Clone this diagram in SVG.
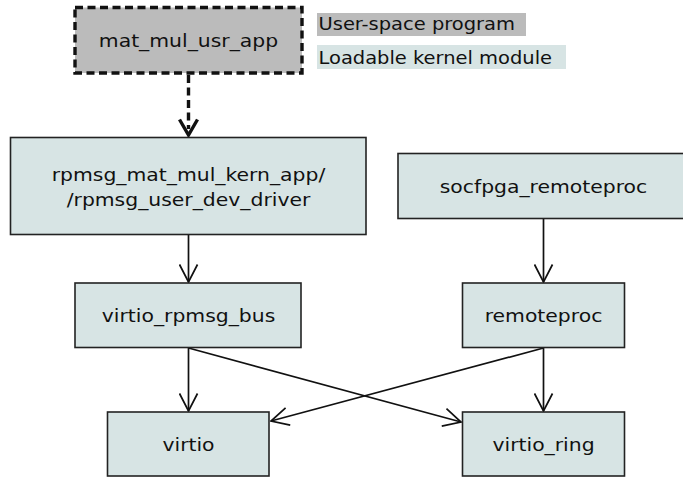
<svg xmlns="http://www.w3.org/2000/svg" width="683" height="477" viewBox="0 0 683 477">
<defs>
<style>
text{font-family:"DejaVu Sans","Noto Sans",sans-serif;font-size:17.7px;fill:#111;text-anchor:middle}
.k{fill:#d7e4e4;stroke:#222;stroke-width:1.6}
.u{fill:#bbbbbb;stroke:#111;stroke-width:3.4;stroke-dasharray:8,4.5}
.c{fill:none;stroke:#111;stroke-width:1.7}
.d{fill:none;stroke:#111;stroke-width:3.4;stroke-dasharray:8,4.5}
.l{text-anchor:start}
</style>
<marker id="a" viewBox="0 0 19 20" refX="18" refY="10" markerWidth="19" markerHeight="20" markerUnits="userSpaceOnUse" orient="auto">
<path d="M0.5,1 L18,10 L0.5,19" fill="none" stroke="#111" stroke-width="1.7"/>
</marker>
<marker id="ad" viewBox="0 0 20 22" refX="18" refY="11" markerWidth="20" markerHeight="22" markerUnits="userSpaceOnUse" orient="auto">
<path d="M1.5,2 L17,11 L1.5,20" fill="none" stroke="#111" stroke-width="3.4"/>
</marker>
</defs>
<g id="legend">
<rect x="317" y="13" width="209" height="23" fill="#bbbbbb"/>
<text class="l" transform="translate(318.5 30) scale(1.1 1)">User-space program</text>
<rect x="317" y="45" width="249" height="24" fill="#d7e4e4"/>
<text class="l" transform="translate(318.5 63.5) scale(1.1 1)">Loadable kernel module</text>
</g>
<g id="connectors">
<line class="d" x1="188.5" y1="75" x2="188.5" y2="129"/>
<line class="c" x1="188.5" y1="128" x2="188.5" y2="136" stroke="none" style="stroke:none" marker-end="url(#ad)"/>
<line class="c" x1="188.5" y1="235" x2="188.5" y2="282" marker-end="url(#a)"/>
<line class="c" x1="543.5" y1="219" x2="543.5" y2="282" marker-end="url(#a)"/>
<line class="c" x1="188.5" y1="348" x2="188.5" y2="411" marker-end="url(#a)"/>
<line class="c" x1="543.5" y1="348" x2="543.5" y2="411" marker-end="url(#a)"/>
<line class="c" x1="188.5" y1="348" x2="461" y2="422" marker-end="url(#a)"/>
<line class="c" x1="543.5" y1="348" x2="271" y2="421" marker-end="url(#a)"/>
</g>
<g id="mat_mul_usr_app">
<rect class="u" x="75" y="7.5" width="227" height="65.5"/>
<text transform="translate(188.5 47) scale(1.15 1)">mat_mul_usr_app</text>
</g>
<g id="rpmsg_mat_mul_kern_app">
<rect class="k" x="10.5" y="137.5" width="355.5" height="97"/>
<text transform="translate(188.5 181) scale(1.15 1)">rpmsg_mat_mul_kern_app/</text>
<text transform="translate(188.5 206) scale(1.15 1)">/rpmsg_user_dev_driver</text>
</g>
<g id="socfpga_remoteproc">
<rect class="k" x="398" y="153.5" width="292" height="65"/>
<text transform="translate(543.5 192.5) scale(1.15 1)">socfpga_remoteproc</text>
</g>
<g id="virtio_rpmsg_bus">
<rect class="k" x="75" y="283" width="226" height="64.5"/>
<text transform="translate(188.5 321.7) scale(1.15 1)">virtio_rpmsg_bus</text>
</g>
<g id="remoteproc">
<rect class="k" x="462.5" y="283" width="162" height="64.5"/>
<text transform="translate(543.5 321.7) scale(1.15 1)">remoteproc</text>
</g>
<g id="virtio">
<rect class="k" x="107.5" y="412" width="161.5" height="64"/>
<text transform="translate(188.5 451) scale(1.15 1)">virtio</text>
</g>
<g id="virtio_ring">
<rect class="k" x="462.5" y="412" width="162" height="64"/>
<text transform="translate(543.5 451) scale(1.15 1)">virtio_ring</text>
</g>
</svg>
